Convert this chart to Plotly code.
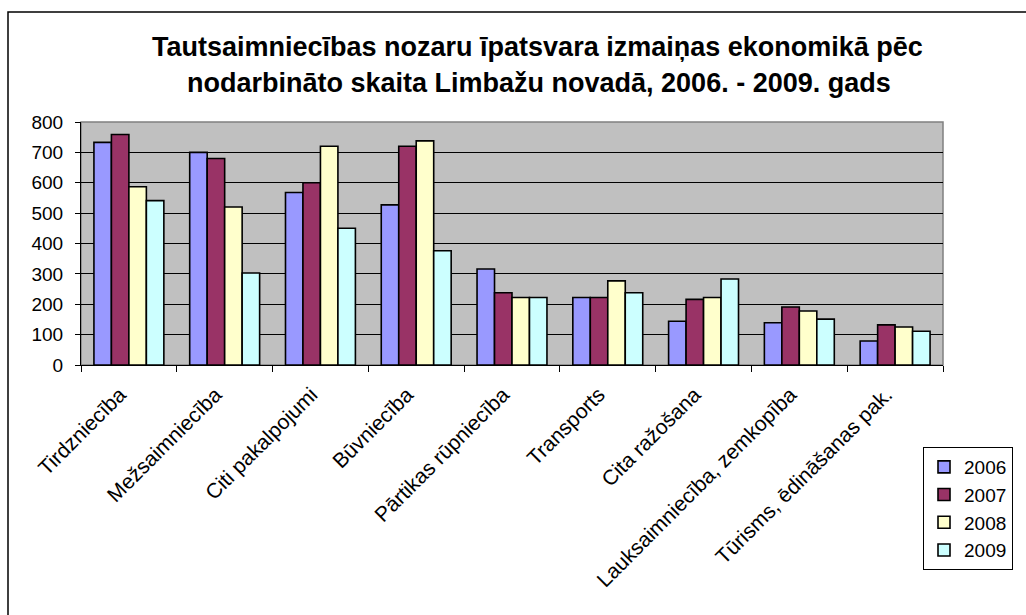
import plotly.graph_objects as go

categories = ["Tirdzniecība", "Mežsaimniecība", "Citi pakalpojumi", "Būvniecība",
              "Pārtikas rūpniecība", "Transports", "Cita ražošana",
              "Lauksaimniecība, zemkopība", "Tūrisms, ēdināšanas pak."]
years = ["2006", "2007", "2008", "2009"]
v2006 = [733, 700, 568, 527, 316, 222, 144, 139, 79]
v2007 = [759, 680, 600, 720, 238, 222, 216, 191, 132]
v2008 = [587, 520, 720, 738, 222, 277, 222, 178, 125]
v2009 = [541, 303, 450, 376, 222, 238, 283, 151, 111]
series = [v2006, v2007, v2008, v2009]
colors = ["#9999FF", "#993366", "#FFFFCC", "#CCFFFF"]

title1 = "Tautsaimniecības nozaru īpatsvara izmaiņas ekonomikā pēc"
title2 = "nodarbināto skaita Limbažu novadā, 2006. - 2009. gads"

FONT = "Liberation Sans, Arial, sans-serif"

fig = go.Figure()
for name, vals, col in zip(years, series, colors):
    fig.add_trace(go.Bar(x=categories, y=vals, name=name,
                         marker=dict(color=col, line=dict(color="black", width=1.6))))

W, H = 1026, 615
L, R, T, B = 81, 943, 122, 365
pw, ph = R - L, B - T

def px(x):
    return (x - L) / pw

def py(y):
    return (B - y) / ph

fig.update_layout(
    width=W, height=H,
    margin=dict(l=L, r=W - R, t=T, b=H - B, pad=0, autoexpand=False),
    paper_bgcolor="white", plot_bgcolor="#C0C0C0",
    barmode="group", bargap=0.27, bargroupgap=0,
    font=dict(family=FONT, size=19, color="black"),
    showlegend=True,
    legend=dict(x=px(923), y=py(447), xanchor="left", yanchor="top",
                bgcolor="white", bordercolor="black", borderwidth=1,
                font=dict(size=19), itemwidth=30, tracegroupgap=0),
    xaxis=dict(showline=True, linecolor="black", linewidth=1,
               ticks="outside", tickson="boundaries", ticklen=6, tickcolor="black",
               tickangle=-45, showgrid=False, tickfont=dict(size=21),
               ticklabelstandoff=8, ticklabelshift=-9),
    yaxis=dict(range=[0, 800], dtick=100, showline=True, linecolor="black", linewidth=1,
               ticks="outside", ticklen=5, tickcolor="black",
               showgrid=True, gridcolor="black", gridwidth=1, zeroline=False,
               tickfont=dict(size=19), ticklabelstandoff=8),
    shapes=[
        dict(type="rect", xref="paper", yref="paper", x0=0, x1=1, y0=0, y1=1,
             line=dict(color="#808080", width=1.5), layer="below"),
        dict(type="rect", xref="paper", yref="paper",
             x0=px(8), x1=px(1040), y0=py(12), y1=py(640),
             line=dict(color="black", width=1.5)),
    ],
    annotations=[
        dict(text="<b>" + title1 + "</b>", xref="paper", yref="paper",
             x=px(537), y=py(47), xanchor="center", yanchor="middle",
             showarrow=False, font=dict(size=27, family=FONT)),
        dict(text="<b>" + title2 + "</b>", xref="paper", yref="paper",
             x=px(539), y=py(83), xanchor="center", yanchor="middle",
             showarrow=False, font=dict(size=27, family=FONT)),
    ],
)

fig.write_html("out.html", config={"displayModeBar": False},
               post_script="document.body.style.margin='0';document.body.style.overflow='hidden';")
